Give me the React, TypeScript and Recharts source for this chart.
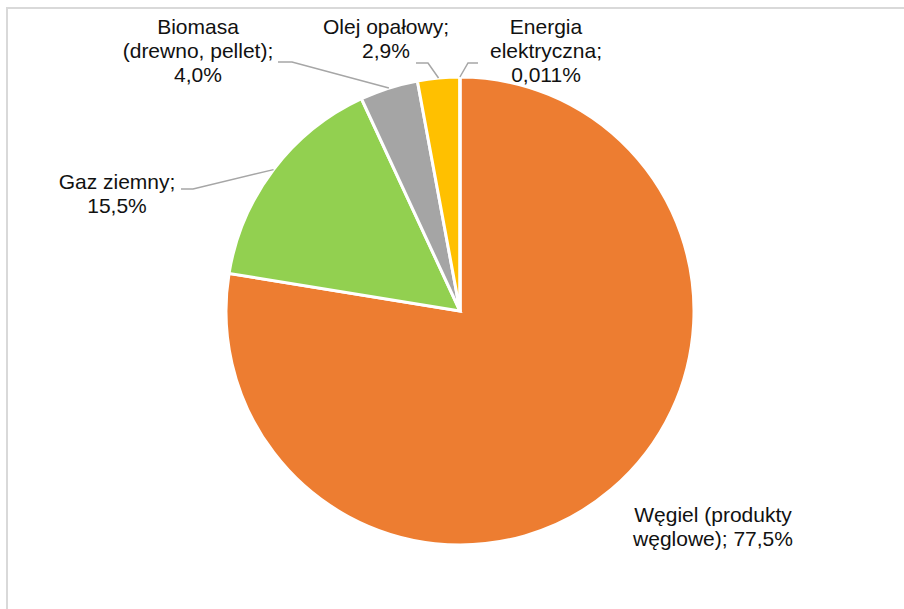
import React from 'react';
import { PieChart, Pie, Cell } from 'recharts';

// udział nośników energii (%)
const categories = [
  'Węgiel (produkty węglowe)',
  'Gaz ziemny',
  'Biomasa (drewno, pellet)',
  'Olej opałowy',
  'Energia elektryczna',
];
const shares = [77.5, 15.5, 4.0, 2.9, 0.011];
const shareLabels = ['77,5%', '15,5%', '4,0%', '2,9%', '0,011%'];
const labelLines = [
  ['Węgiel (produkty', 'węglowe); 77,5%'],
  ['Gaz ziemny;', '15,5%'],
  ['Biomasa', '(drewno, pellet);', '4,0%'],
  ['Olej opałowy;', '2,9%'],
  ['Energia', 'elektryczna;', '0,011%'],
];

const COLORS = ['#ED7D31', '#92D050', '#A5A5A5', '#FFC000', '#5B9BD5'];

// where each label sits and where its leader line bends (null = no leader)
const labelLayout = [
  { x: 713, y: 522, lead: null },
  { x: 117, y: 189, lead: { x1: 181, x2: 193, y: 189 } },
  { x: 198, y: 34, lead: { x1: 278, x2: 292, y: 62 } },
  { x: 386, y: 34, lead: { x1: 416, x2: 428, y: 63 } },
  { x: 546, y: 34, lead: { x1: 478, x2: 468, y: 63 } },
];

const data = categories.map((name, i) => ({ name, value: shares[i], label: shareLabels[i] }));

const RADIAN = Math.PI / 180;
const FONT = '"Liberation Sans", Arial, sans-serif';

const renderLabel = (props: any) => {
  const { cx, cy, midAngle, outerRadius, index } = props;
  const layout = labelLayout[index];
  const lines = labelLines[index];
  const ex = cx + outerRadius * Math.cos(-midAngle * RADIAN);
  const ey = cy + outerRadius * Math.sin(-midAngle * RADIAN);
  return (
    <g key={`lbl-${index}`}>
      {layout.lead && (
        <polyline
          points={`${layout.lead.x1},${layout.lead.y} ${layout.lead.x2},${layout.lead.y} ${ex},${ey}`}
          fill="none"
          stroke="#A6A6A6"
          strokeWidth={1.5}
        />
      )}
      <text x={layout.x} y={layout.y} textAnchor="middle" fill="#111" fontSize={21} fontFamily={FONT}>
        {lines.map((l, k) => (
          <tspan key={k} x={layout.x} dy={k === 0 ? 0 : 24}>
            {l}
          </tspan>
        ))}
      </text>
    </g>
  );
};

const App: React.FC = () => {
  return (
    <div style={{ position: 'absolute', left: 0, top: 0, width: 904, height: 609, overflow: 'hidden', background: '#fff' }}>
      <div
        style={{
          position: 'absolute',
          left: 6,
          top: 7,
          width: 1000,
          height: 1000,
          border: '2px solid #D9D9D9',
        }}
      />
      <div style={{ position: 'absolute', left: 0, top: 0 }}>
        <PieChart width={904} height={609} margin={{ top: 0, right: 0, bottom: 0, left: 0 }}>
          <Pie
            data={data}
            dataKey="value"
            nameKey="name"
            cx={460}
            cy={311}
            outerRadius={234}
            startAngle={90}
            endAngle={-270}
            stroke="#fff"
            strokeWidth={3}
            label={renderLabel}
            labelLine={false}
            isAnimationActive={false}
          >
            {data.map((d, i) => (
              <Cell key={d.name} fill={COLORS[i]} />
            ))}
          </Pie>
        </PieChart>
      </div>
    </div>
  );
};

export default App;
